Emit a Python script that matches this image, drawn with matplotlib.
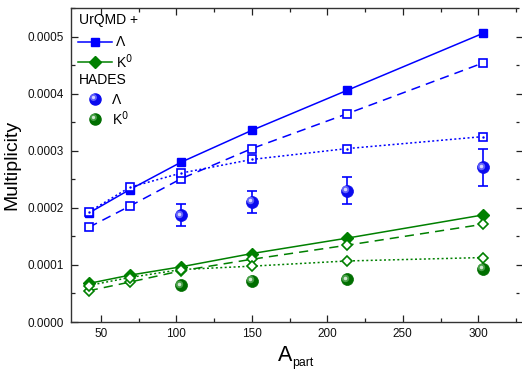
import matplotlib
matplotlib.use("Agg")
import matplotlib.pyplot as plt
import matplotlib.transforms as mtransforms
from matplotlib.lines import Line2D
from matplotlib.ticker import MultipleLocator, FormatStrFormatter
import numpy as np

plt.rcParams['font.family'] = ['Liberation Sans', 'DejaVu Sans']

# UrQMD model points
a_part = [42, 69, 103, 150, 213, 303]
lam_solid = [0.000191, 0.000232, 0.000280, 0.000336, 0.000406, 0.000506]
lam_dashed = [0.000166, 0.000203, 0.000251, 0.000304, 0.000365, 0.000454]
lam_dotted = [0.000193, 0.000236, 0.000261, 0.000285, 0.000304, 0.000325]
k0_solid = [0.0000676, 0.0000821, 0.0000967, 0.000120, 0.000147, 0.0001876]
k0_dashed = [0.0000548, 0.0000699, 0.0000897, 0.000110, 0.0001346, 0.0001713]
k0_dotted = [0.0000640, 0.0000780, 0.0000920, 0.0000979, 0.000107, 0.000113]

# HADES data
a_hades = [103, 150, 213, 303]
lam_hades = [0.000187, 0.000211, 0.000230, 0.000271]
lam_hades_err = [0.0000195, 0.0000195, 0.0000235, 0.000033]
k0_hades = [0.0000641, 0.0000717, 0.0000746, 0.0000938]

blue = '#0000ff'
green = '#008000'

fig = plt.figure(figsize=(5.22, 3.70), dpi=100)
ax = fig.add_axes([0.1354, 0.1297, 0.8531, 0.8479])

lw = 1.1
# Lambda
ax.plot(a_part, lam_solid, '-', color=blue, lw=lw, marker='s', ms=6.3, mfc=blue, mec=blue, zorder=3)
ax.plot(a_part, lam_dashed, color=blue, lw=lw, ls=(0, (6, 4)), marker='s', ms=5.8, mfc='white', mec=blue, mew=1.2, zorder=3)
ax.plot(a_part, lam_dotted, color=blue, lw=lw, ls=(0, (1.3, 1.6)), marker='s', ms=5.8, mfc='white', mec=blue, mew=1.2, zorder=3)
ax.plot(a_part, lam_dotted, ls='none', marker='.', ms=1.5, color=blue, zorder=4)
# K0
ax.plot(a_part, k0_solid, '-', color=green, lw=lw, marker='D', ms=6.0, mfc=green, mec=green, zorder=3)
ax.plot(a_part, k0_dashed, color=green, lw=lw, ls=(0, (6, 4)), marker='D', ms=5.6, mfc='white', mec=green, mew=1.2, zorder=3)
ax.plot(a_part, k0_dotted, color=green, lw=lw, ls=(0, (1.3, 1.6)), marker='D', ms=5.6, mfc='white', mec=green, mew=1.2, zorder=3)

# HADES spheres
ax.errorbar(a_hades, lam_hades, yerr=lam_hades_err, fmt='none', ecolor=blue, elinewidth=1.2, capsize=3.5, capthick=1.2, zorder=4)

def sphere(axis, xs, ys, base, light, size):
    axis.plot(xs, ys, ls='none', marker='o', ms=size, mfc=base, mec=base, mew=0.5, zorder=5)
    for frac, col in [(0.62, light), (0.3, 'white')]:
        off = mtransforms.ScaledTranslation(-size * 0.14 / 72, size * 0.14 / 72, fig.dpi_scale_trans)
        axis.plot(xs, ys, ls='none', marker='o', ms=size * frac, mfc=col, mec='none',
                  alpha=0.75, zorder=6, transform=axis.transData + off)

sphere(ax, a_hades, lam_hades, '#0a0aee', '#7f7fff', 8.6)
sphere(ax, a_hades, k0_hades, '#006e00', '#5fb05f', 8.6)

ax.set_xlim(30, 325)
ax.set_ylim(0, 0.00055)
ax.xaxis.set_major_locator(MultipleLocator(50))
ax.xaxis.set_minor_locator(MultipleLocator(25))
ax.yaxis.set_major_locator(MultipleLocator(0.0001))
ax.yaxis.set_minor_locator(MultipleLocator(0.00005))
ax.yaxis.set_major_formatter(FormatStrFormatter('%.4f'))

for s in ['left', 'bottom', 'top']:
    ax.spines[s].set_color('#333333')
    ax.spines[s].set_linewidth(1.0)
ax.spines['right'].set_visible(False)

ax.tick_params(which='both', direction='in', top=True, right=False, labelsize=8.5, colors='#222222',
               labelcolor='#111111')
ax.tick_params(which='major', length=5, width=0.9)
ax.tick_params(which='minor', length=3, width=0.9)
ax.tick_params(axis='y', pad=5)
ax.tick_params(axis='x', pad=4)

# right side outward ticks
axr = ax.secondary_yaxis('right')
axr.yaxis.set_major_locator(MultipleLocator(0.0001))
axr.yaxis.set_minor_locator(MultipleLocator(0.00005))
axr.spines['right'].set_visible(False)
axr.tick_params(which='both', direction='out', labelright=False, colors='#222222')
axr.tick_params(which='major', length=4, width=0.9)
axr.tick_params(which='minor', length=2, width=0.9)

ax.set_ylabel('Multiplicity', fontsize=14, labelpad=5)
fig.text(285 / 522, 1 - 361 / 370, 'A', fontsize=15.5, ha='center', va='baseline')
fig.text(292 / 522, 1 - 366 / 370, 'part', fontsize=8.8, ha='left', va='baseline')

# legend
def px(x, y):
    return x / 522, 1 - y / 370

fig.text(*px(79, 20), 'UrQMD +', fontsize=10, va='center', ha='left')
fig.add_artist(Line2D([78 / 522, 112 / 522], [1 - 41.7 / 370] * 2, color=blue, lw=lw))
fig.add_artist(Line2D([95 / 522], [1 - 41.7 / 370], marker='s', ms=6.3, color=blue, ls='none'))
fig.text(*px(116, 42), 'Λ', fontsize=10, va='center', ha='left')
fig.add_artist(Line2D([78 / 522, 112 / 522], [1 - 61.7 / 370] * 2, color=green, lw=lw))
fig.add_artist(Line2D([95 / 522], [1 - 61.7 / 370], marker='D', ms=6.0, color=green, ls='none'))
fig.text(*px(116, 62), 'K$^0$', fontsize=10, va='center', ha='left')
fig.text(*px(79, 79.5), 'HADES', fontsize=10, va='center', ha='left')

def leg_sphere(x, y, base, light, size):
    fig.add_artist(Line2D([x / 522], [1 - y / 370], marker='o', ms=size, mfc=base, mec=base, ls='none'))
    d = size * 0.14 * 100 / 72
    for frac, col in [(0.62, light), (0.3, 'white')]:
        fig.add_artist(Line2D([(x - d) / 522], [1 - (y - d) / 370], marker='o', ms=size * frac,
                              mfc=col, mec='none', ls='none', alpha=0.75))

leg_sphere(95, 99, '#0a0aee', '#7f7fff', 8.0)
fig.text(*px(112, 100), 'Λ', fontsize=10, va='center', ha='left')
leg_sphere(95, 119, '#006e00', '#5fb05f', 8.0)
fig.text(*px(112, 119), 'K$^0$', fontsize=10, va='center', ha='left')

fig.savefig('out.png', dpi=100)
